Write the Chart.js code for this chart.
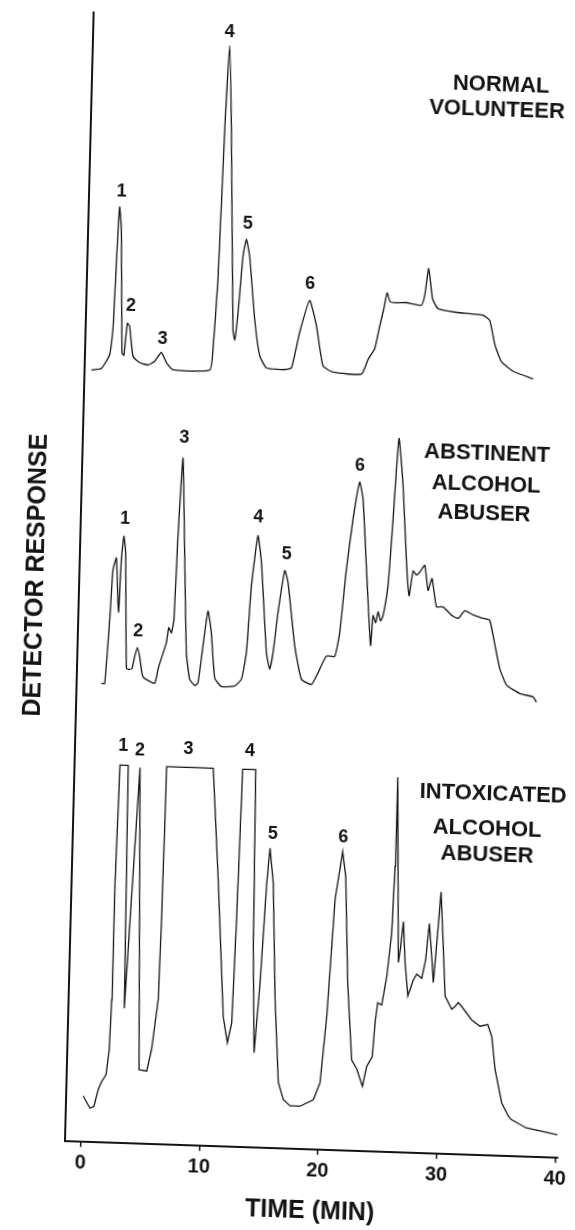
<!DOCTYPE html>
<html lang="en">
<head>
    <meta charset="UTF-8">
    <meta name="viewport" content="width=device-width, initial-scale=1.0">
    <title>Chromatograms - Detector Response</title>
    <script src="https://cdn.jsdelivr.net/npm/chart.js"></script>
    <style>
        body {
            margin: 0;
            background: #fff;
        }

        .chart-box {
            width: 575px;
            height: 1230px;
            position: relative;
        }

        /* the scanned figure sits slightly skewed, axes tilt about 1.5-2 degrees */
        #chromChart {
            transform-origin: 80.7px 1142.2px;
            transform: matrix(1, 0.0337, -0.0254, 1, 0, 0);
        }
    </style>
</head>
<body>
    <div class="chart-box">
        <canvas id="chromChart"></canvas>
    </div>

    <script>
        // Time axis
        const xTicks = [0, 10, 20, 30, 40];

        // Normal volunteer trace (time in min, response in arbitrary units)
        const normalTime = [-0.75, 0.09, 0.76, 0.98, 1.13, 1.28, 1.48, 1.79, 1.96, 2.18,
            2.38, 2.73, 3.30, 4.01, 4.57, 5.11, 5.55, 6.12, 9.22, 9.45,
            9.72, 9.97, 10.21, 10.53, 11.09, 11.26, 11.48, 11.78, 12.03, 12.34,
            12.90, 13.40, 13.99, 15.53, 16.10, 16.72, 17.49, 18.11, 18.75, 19.61,
            22.01, 22.53, 23.07, 23.45, 23.75, 23.99, 24.30, 25.65, 26.91, 27.17,
            27.45, 27.83, 28.32, 29.88, 32.13, 32.70, 33.18, 33.78, 34.78, 36.48];
        const normalResp = [78.4, 78.6, 80.0, 82.5, 89.2, 94.8, 92.5, 80.2, 80.0, 83.2,
            82.9, 79.9, 79.3, 79.1, 79.5, 80.4, 79.4, 78.7, 78.8, 80.9,
            87.9, 102.9, 111.3, 102.9, 82.9, 81.9, 84.6, 90.3, 92.0, 90.3,
            84.0, 80.4, 79.2, 79.1, 79.3, 82.9, 86.1, 83.6, 79.6, 79.0,
            78.9, 80.4, 81.5, 83.8, 85.5, 87.1, 86.2, 86.2, 86.0, 87.0,
            89.7, 86.7, 85.7, 85.4, 85.2, 84.7, 82.3, 80.6, 79.7, 79.0];

        // Abstinent alcohol abuser trace
        const abstinentTime = [0.76, 1.04, 1.33, 1.50, 1.76, 1.99, 2.07, 2.18, 2.35, 2.53,
            2.84, 3.12, 3.31, 3.51, 3.72, 3.93, 4.25, 5.25, 5.50, 5.76,
            6.15, 6.32, 6.55, 6.74, 6.90, 7.16, 7.50, 7.86, 8.19, 8.63,
            8.90, 9.24, 9.59, 9.92, 10.30, 10.88, 12.00, 12.55, 12.91, 13.19,
            13.64, 13.99, 14.60, 14.91, 15.16, 15.49, 15.97, 16.27, 16.97, 17.60,
            18.46, 18.99, 19.66, 20.36, 20.73, 21.16, 21.61, 22.09, 22.41, 22.85,
            23.35, 23.50, 23.74, 23.92, 24.14, 24.34, 24.70, 24.98, 25.31, 25.75,
            26.20, 26.49, 26.78, 27.07, 27.34, 27.75, 28.08, 28.39, 28.82, 29.38,
            30.11, 30.67, 31.22, 31.93, 32.78, 33.34, 33.82, 34.29, 34.89, 36.03,
            37.16, 37.45];
        const abstinentResp = [47.1, 47.1, 53.5, 58.5, 59.7, 55.2, 54.3, 59.5, 61.9, 60.2,
            48.7, 48.6, 48.7, 49.9, 50.8, 49.9, 47.9, 47.3, 48.7, 49.8,
            51.4, 52.9, 52.4, 53.7, 62.1, 69.9, 60.4, 50.4, 47.8, 47.2,
            47.5, 51.2, 54.7, 52.5, 48.0, 47.2, 47.3, 48.0, 50.7, 57.3,
            62.4, 59.7, 50.7, 49.1, 50.8, 54.8, 59.0, 57.8, 51.5, 48.2,
            47.7, 48.9, 50.6, 50.6, 53.0, 59.4, 64.4, 68.1, 66.4, 59.4,
            51.8, 54.8, 54.1, 55.2, 54.3, 54.8, 57.9, 64.5, 72.6, 67.9,
            60.3, 56.9, 59.4, 59.0, 59.3, 60.0, 57.5, 58.7, 55.9, 55.9,
            55.1, 54.8, 55.6, 55.2, 54.9, 54.7, 52.3, 49.9, 48.3, 47.5,
            47.2, 46.7];

        // Intoxicated alcohol abuser trace (peaks 1, 3, 4 off scale)
        const intoxTime = [0.12, 0.36, 0.71, 1.04, 1.37, 1.64, 1.99, 2.21, 2.31, 2.34,
            2.51, 3.20, 3.39, 4.20, 4.76, 5.41, 5.78, 6.23, 6.34, 6.41,
            6.44, 10.37, 11.04, 11.74, 12.14, 12.47, 12.66, 12.85, 13.95, 14.13,
            14.41, 14.77, 15.12, 15.32, 15.67, 16.07, 16.52, 16.98, 17.56, 18.40,
            19.51, 20.03, 20.46, 20.91, 21.45, 21.76, 22.15, 22.65, 23.10, 23.61,
            23.93, 24.38, 24.54, 24.72, 25.06, 25.43, 25.75, 25.89, 25.93, 26.37,
            26.51, 26.71, 26.94, 27.24, 27.67, 27.95, 28.38, 28.67, 28.90, 29.17,
            29.36, 29.57, 29.82, 30.14, 30.38, 30.97, 31.24, 31.51, 31.81, 32.68,
            33.39, 34.04, 34.40, 34.75, 35.38, 35.97, 36.20, 37.48, 40.14];
        const intoxResp = [5.8, 5.3, 4.6, 4.8, 6.5, 7.3, 8.0, 10.5, 15.5, 27.2,
            39.0, 39.0, 14.7, 38.8, 8.6, 8.5, 10.7, 15.7, 24.0, 34.0,
            39.0, 39.0, 27.6, 14.2, 11.6, 13.6, 24.3, 39.0, 39.0, 21.0,
            10.7, 17.7, 27.7, 31.2, 27.7, 16.1, 7.8, 6.1, 5.5, 5.5,
            6.2, 7.9, 14.6, 26.3, 31.1, 28.6, 18.0, 10.3, 9.4, 7.7,
            9.7, 10.7, 14.1, 16.1, 15.9, 18.8, 23.1, 29.8, 38.7, 20.2,
            21.5, 24.3, 20.2, 16.9, 18.5, 19.1, 18.7, 20.6, 24.2, 20.9,
            18.3, 22.3, 27.4, 21.6, 17.0, 15.7, 16.0, 16.4, 16.0, 14.7,
            14.1, 14.3, 13.1, 9.8, 6.5, 5.2, 4.9, 4.1, 3.5];

        // Peak numbers and where they sit (time, response)
        const peakNames = ['1', '2', '3', '4', '5', '6'];
        const normalPeakT = [1.42, 2.45, 5.19, 10.17, 12.11, 17.48];
        const normalPeakY = [96.4, 84.9, 81.7, 112.7, 93.5, 87.7];
        const abstinentPeakT = [2.40, 3.76, 7.22, 13.63, 16.10, 22.08];
        const abstinentPeakY = [63.6, 52.4, 71.9, 64.2, 60.6, 69.7];
        const intoxPeakT = [2.74, 4.16, 8.23, 13.43, 15.52, 21.47];
        const intoxPeakY = [40.9, 40.5, 40.8, 40.8, 32.6, 32.5];

        // Sample captions, one entry per text line
        const sampleText = ['NORMAL', 'VOLUNTEER', 'ABSTINENT', 'ALCOHOL', 'ABUSER', 'INTOXICATED', 'ALCOHOL', 'ABUSER'];
        const sampleT = [33.15, 32.86, 32.76, 32.74, 32.63, 33.99, 33.56, 33.62];
        const sampleY = [108.3, 105.8, 71.4, 68.2, 65.3, 37.3, 33.8, 31.2];

        const textFont = "'Liberation Sans', Arial, Helvetica, sans-serif";
        const ink = '#141414';

        function toPoints(ts, ys) {
            return ts.map((t, i) => ({ x: t, y: ys[i] }));
        }

        // draws the peak numbers and the sample captions
        const labelPlugin = {
            id: 'peakLabels',
            afterDatasetsDraw(chart) {
                const { ctx, scales: { x, y } } = chart;
                ctx.save();
                ctx.fillStyle = ink;
                ctx.textAlign = 'center';
                ctx.textBaseline = 'middle';
                ctx.font = 'bold 18px ' + textFont;
                [[normalPeakT, normalPeakY], [abstinentPeakT, abstinentPeakY], [intoxPeakT, intoxPeakY]]
                    .forEach(([ts, ys]) => {
                        ts.forEach((t, i) => {
                            ctx.fillText(peakNames[i], x.getPixelForValue(t), y.getPixelForValue(ys[i]));
                        });
                    });
                ctx.font = 'bold 22px ' + textFont;
                sampleText.forEach((s, i) => {
                    ctx.fillText(s, x.getPixelForValue(sampleT[i]), y.getPixelForValue(sampleY[i]));
                });
                ctx.restore();
            }
        };

        const traceStyle = {
            borderColor: ink,
            borderWidth: 1.3,
            pointRadius: 0,
            fill: false,
            clip: false
        };

        new Chart(document.getElementById('chromChart'), {
            type: 'line',
            data: {
                datasets: [
                    { label: 'Normal volunteer', data: toPoints(normalTime, normalResp), tension: 0.15, ...traceStyle },
                    { label: 'Abstinent alcohol abuser', data: toPoints(abstinentTime, abstinentResp), tension: 0.15, ...traceStyle },
                    { label: 'Intoxicated alcohol abuser', data: toPoints(intoxTime, intoxResp), tension: 0, ...traceStyle }
                ]
            },
            options: {
                responsive: true,
                maintainAspectRatio: false,
                animation: false,
                devicePixelRatio: 1,
                events: [],
                layout: {
                    padding: { left: 0, right: 17, top: 12.6, bottom: 0 }
                },
                plugins: {
                    legend: { display: false },
                    tooltip: { enabled: false }
                },
                scales: {
                    x: {
                        type: 'linear',
                        min: -1.34,
                        max: 40.21,
                        afterBuildTicks: scale => {
                            scale.ticks = xTicks.map(v => ({ value: v }));
                        },
                        afterFit: scale => {
                            scale.height = 87.8;
                        },
                        ticks: {
                            color: ink,
                            padding: 4,
                            maxRotation: 0,
                            font: { family: textFont, size: 20, weight: 'bold' }
                        },
                        grid: {
                            display: true,
                            drawOnChartArea: false,
                            drawTicks: true,
                            tickLength: 5,
                            color: ink,
                            lineWidth: 1.5
                        },
                        border: { display: true, color: ink, width: 2 },
                        title: {
                            display: true,
                            text: 'TIME (MIN)',
                            color: ink,
                            padding: { top: 0, bottom: 10.7 },
                            font: { family: textFont, size: 25, weight: 'bold' }
                        }
                    },
                    y: {
                        type: 'linear',
                        min: 1.2,
                        max: 114.2,
                        afterFit: scale => {
                            scale.width = 64.8;
                        },
                        ticks: { display: false },
                        grid: { display: false },
                        border: { display: true, color: ink, width: 2 },
                        title: {
                            display: true,
                            text: 'DETECTOR RESPONSE',
                            color: ink,
                            padding: { top: 7.3, bottom: 0 },
                            font: { family: textFont, size: 25, weight: 'bold' }
                        }
                    }
                }
            },
            plugins: [labelPlugin]
        });
    </script>
</body>
</html>
